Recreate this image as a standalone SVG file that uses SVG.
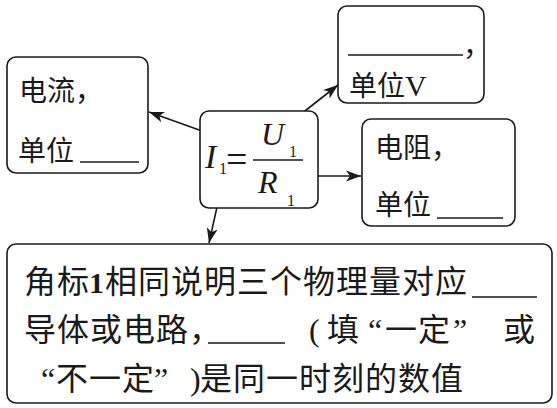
<svg xmlns="http://www.w3.org/2000/svg" width="557" height="408" viewBox="0 0 557 408">
<style>
.box{fill:#fff;stroke:#1a1a1a;stroke-width:1.6}
.t{font-family:"Liberation Serif","Noto Sans CJK SC",serif;fill:#1a1a1a}
.s28{font-size:28px}
.s32{font-size:32px}
.m{font-family:"Liberation Serif",serif;font-style:italic;fill:#1a1a1a}
.n{font-family:"Liberation Serif",serif;fill:#1a1a1a}
.ul{stroke:#1a1a1a;stroke-width:1.6}
.ar{stroke:#1a1a1a;stroke-width:1.6;fill:none;marker-end:url(#ah)}
</style>
<defs>
<marker id="ah" markerUnits="userSpaceOnUse" markerWidth="16" markerHeight="12" viewBox="0 0 16 12" refX="15" refY="6" orient="auto">
<path d="M0,0.5 L15,6 L0,11.5 L4,6 Z" fill="#1a1a1a"/>
</marker>
</defs>
<rect width="557" height="408" fill="#fff"/>
<g id="connectors">
<line class="ar" x1="216" y1="136" x2="149" y2="112"/>
<line class="ar" x1="296" y1="118" x2="338" y2="85"/>
<line class="ar" x1="287" y1="176" x2="361" y2="176"/>
<line class="ar" x1="223" y1="180" x2="209" y2="243"/>
</g>
<g id="current">
<rect class="box" x="7" y="57" width="141" height="116" rx="9"/>
<text class="t s28" x="19" y="101">电流，</text>
<text class="t s28" x="18" y="161">单位</text>
<line class="ul" x1="80" y1="162" x2="139" y2="162"/>
</g>
<g id="voltage">
<rect class="box" x="338" y="6" width="146" height="97" rx="9"/>
<line class="ul" x1="348" y1="55" x2="463" y2="55"/>
<text class="t s28" x="463" y="56">，</text>
<text class="t s28" x="349" y="96">单位<tspan font-size="30">V</tspan></text>
</g>
<g id="formula">
<rect class="box" x="200" y="111" width="118" height="97" rx="9"/>
<text class="m" font-size="34" x="205" y="168">I</text>
<text class="n" font-size="16" x="219" y="174">1</text>
<text class="n" font-size="38" x="226" y="172">=</text>
<line class="ul" x1="253" y1="160" x2="303" y2="160"/>
<text class="m" font-size="32" x="261" y="145">U</text>
<text class="n" font-size="16" x="289" y="157">1</text>
<text class="m" font-size="32" x="258" y="193">R</text>
<text class="n" font-size="16" x="287" y="206">1</text>
</g>
<g id="resistance">
<rect class="box" x="362" y="119" width="153" height="107" rx="9"/>
<text class="t s28" x="375" y="158">电阻，</text>
<text class="t s28" x="375" y="215">单位</text>
<line class="ul" x1="437" y1="218" x2="503" y2="218"/>
</g>
<g id="note">
<rect class="box" x="7" y="244" width="545" height="159" rx="9"/>
<text class="t s32" x="24" y="293" letter-spacing="1">角标</text>
<text class="t" font-size="30" x="89" y="293" font-weight="bold">1</text>
<text class="t s32" x="105" y="293" letter-spacing="1">相同说明三个物理量对应</text>
<line class="ul" x1="472" y1="297" x2="537" y2="297"/>
<text class="t s32" x="24" y="341" letter-spacing="1">导体或电路，</text>
<line class="ul" x1="208" y1="343" x2="285" y2="343"/>
<text class="t s32" x="309" y="341">(</text>
<text class="t s32" x="327" y="341">填</text>
<text class="t s32" x="368" y="341">“</text>
<text class="t s32" x="385" y="341" letter-spacing="1">一定</text>
<text class="t s32" x="453" y="341">”</text>
<text class="t s32" x="503" y="341">或</text>
<text class="t s32" x="41" y="390">“</text>
<text class="t s32" x="56" y="390" letter-spacing="1">不一定</text>
<text class="t s32" x="154" y="390">”</text>
<text class="t s32" x="190" y="390">)</text>
<text class="t s32" x="200" y="390" letter-spacing="1">是同一时刻的数值</text>
</g>
</svg>
